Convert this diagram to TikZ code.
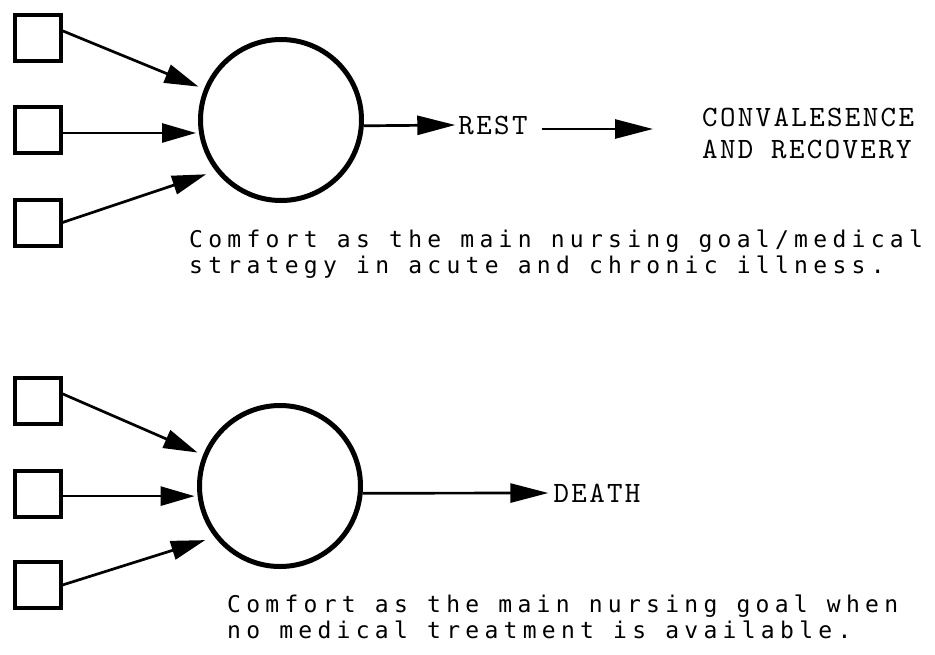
\documentclass[tikz,border=0pt]{standalone}
\usepackage{fontspec}
\usetikzlibrary{arrows.meta}
\newfontfamily\notefont[LetterSpace=23]{DejaVu Sans Mono}
\newfontfamily\labelfont[LetterSpace=8]{lmmono10-regular.otf}

\tikzset{
  inbox/.style={draw, line width=4pt, minimum size=46pt, inner sep=0pt},
  hub/.style={circle, draw, line width=5pt, minimum size=161pt, inner sep=0pt},
  feed/.style={line width=2.7pt, -{Triangle[length=34pt,width=19pt]}},
  lead/.style={line width=2.7pt, -{Triangle[length=38pt,width=19pt]}},
  outcome/.style={font=\labelfont\fontsize{29.5}{32}\selectfont, inner sep=3pt},
  note/.style={font=\notefont\fontsize{23}{26}\selectfont, align=left, inner sep=0pt},
}

\begin{document}
\begin{tikzpicture}[x=1pt, y=-1pt]
  \useasboundingbox (0,0) rectangle (935,654);

  % ---- comfort leading to rest and recovery ----
  \node[inbox] (a1) at (37.5,37.5) {};
  \node[inbox] (a2) at (37.5,130) {};
  \node[inbox] (a3) at (37.5,222.5) {};
  \node[hub] (c1) at (281,120) {};

  \draw[feed, shorten >=6pt] (a1.15) -- (c1.158);
  \draw[feed, shorten >=3pt] (a2.east |- c1.189) -- (c1.189);
  \draw[feed, shorten >=10pt] (a3.east) -- (c1.218);

  \node[outcome] (rest) at (493,125) {REST};
  \node[outcome, align=left, anchor=base west, inner sep=0pt] (conv) at (702,158) {CONVALESENCE\\AND RECOVERY};

  \draw[lead] (c1.-4) -- (rest.west);
  \draw[lead, shorten <=11pt, shorten >=49pt] ([yshift=-4pt]rest.east) -- ([yshift=-4pt]rest.east -| conv.west);

  \node[note, anchor=base west] (n1) at (189,273)
    {Comfort as the main nursing goal/medical\\strategy in acute and chronic illness.};

  % ---- comfort leading to death ----
  \node[inbox] (b1) at (37.5,400.5) {};
  \node[inbox] (b2) at (37.5,494) {};
  \node[inbox] (b3) at (37.5,585) {};
  \node[hub] (c2) at (280,486) {};

  \draw[feed, shorten >=6pt] (b1.15) -- (c2.158);
  \draw[feed, shorten >=3pt] (b2.east |- c2.187) -- (c2.187);
  \draw[feed, shorten >=10pt] (b3.east) -- (c2.218);

  \node[outcome, inner sep=5pt] (death) at (597,493) {DEATH};
  \draw[lead] (c2.-5) -- (death.west);

  \node[note, anchor=base west] (n2) at (227,638)
    {Comfort as the main nursing goal when\\no medical treatment is available.};
\end{tikzpicture}
\end{document}
